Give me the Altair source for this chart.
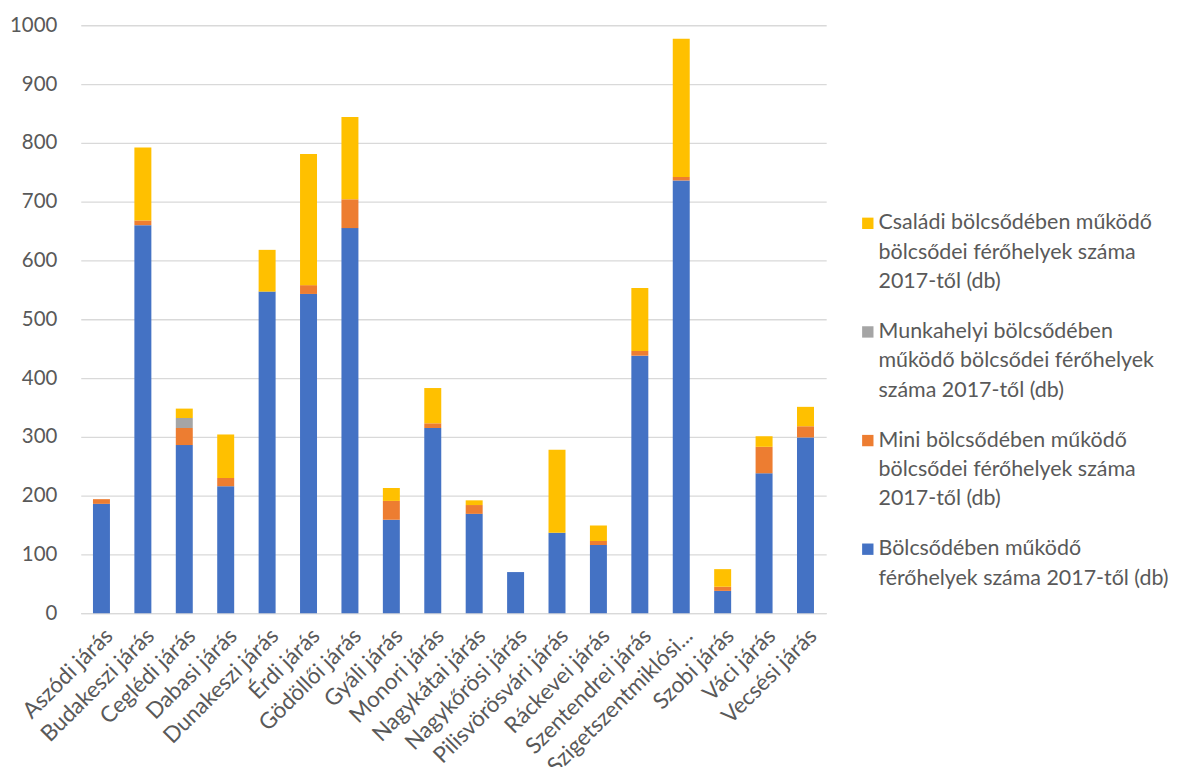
import altair as alt
import pandas as pd

categories = [
    "Aszódi járás", "Budakeszi járás", "Ceglédi járás", "Dabasi járás",
    "Dunakeszi járás", "Érdi járás", "Gödöllői járás", "Gyáli járás",
    "Monori járás", "Nagykátai járás", "Nagykőrösi járás", "Pilisvörösvári járás",
    "Ráckevei járás", "Szentendrei járás", "Szigetszentmiklósi...", "Szobi járás",
    "Váci járás", "Vecsési járás",
]

bolcsode = [186, 660, 286, 216, 547, 543, 655, 159, 315, 169, 70, 137, 116, 438, 736, 38, 238, 299]
mini = [8, 8, 29, 14, 0, 15, 49, 32, 8, 15, 0, 0, 7, 8, 6, 7, 45, 19]
munkahelyi = [0, 0, 17, 0, 0, 0, 0, 0, 0, 0, 0, 0, 0, 0, 0, 0, 0, 0]
csaladi = [0, 124, 16, 74, 71, 223, 140, 22, 60, 8, 0, 141, 26, 107, 235, 30, 18, 33]

series_names = [
    "Bölcsődében működő|férőhelyek száma 2017-től (db)",
    "Mini bölcsődében működő|bölcsődei férőhelyek száma|2017-től (db)",
    "Munkahelyi bölcsődében|működő bölcsődei férőhelyek|száma 2017-től (db)",
    "Családi bölcsődében működő|bölcsődei férőhelyek száma|2017-től (db)",
]
series_colors = ["#4472C4", "#ED7D31", "#A5A5A5", "#FFC000"]
series_values = [bolcsode, mini, munkahelyi, csaladi]

rows = []
for rank, (name, vals) in enumerate(zip(series_names, series_values)):
    for cat, v in zip(categories, vals):
        rows.append({"category": cat, "series": name, "value": v, "rank": rank})
df = pd.DataFrame(rows)

legend_order = list(reversed(series_names))
legend_colors = list(reversed(series_colors))

FONT = "Lato"
TEXT = "#595959"

chart = alt.Chart(df).mark_bar().encode(
    x=alt.X(
        "category:N",
        sort=categories,
        title=None,
        scale=alt.Scale(paddingInner=0.59, paddingOuter=0.295),
        axis=alt.Axis(
            labelAngle=-45,
            labelFontSize=22.5,
            labelFont=FONT,
            labelColor=TEXT,
            labelPadding=11,
            ticks=False,
            domainColor="#d9d9d9",
            domainWidth=1.3,
            labelLimit=400,
        ),
    ),
    y=alt.Y(
        "value:Q",
        stack="zero",
        title=None,
        scale=alt.Scale(domain=[0, 1000], nice=False),
        axis=alt.Axis(
            values=list(range(0, 1001, 100)),
            format="d",
            labelFontSize=20.5,
            labelFont=FONT,
            labelColor=TEXT,
            labelPadding=24,
            ticks=False,
            domain=False,
            gridColor="#d9d9d9",
            gridWidth=1.3,
        ),
    ),
    color=alt.Color(
        "series:N",
        scale=alt.Scale(domain=legend_order, range=legend_colors),
        legend=alt.Legend(
            title=None,
            orient="none",
            legendX=779,
            legendY=188,
            symbolType="square",
            symbolSize=130,
            symbolStrokeWidth=0,
            labelFontSize=21.5,
            labelFont=FONT,
            labelColor=TEXT,
            labelLimit=400,
            labelOffset=0,
            labelBaseline="middle",
            rowPadding=27,
            labelExpr="split(datum.label, '|')",
        ),
    ),
    order=alt.Order("rank:Q", sort="ascending"),
).properties(
    width=748,
    height=590,
    autosize=alt.AutoSizeParams(type="none"),
    padding={"left": 73, "top": 16, "right": 350, "bottom": 153},
).configure(
    style={"guide-label": {"lineHeight": 29.5}},
).configure_view(stroke=None)

chart.save("out.html", embed_options={"renderer": "svg", "actions": False})
